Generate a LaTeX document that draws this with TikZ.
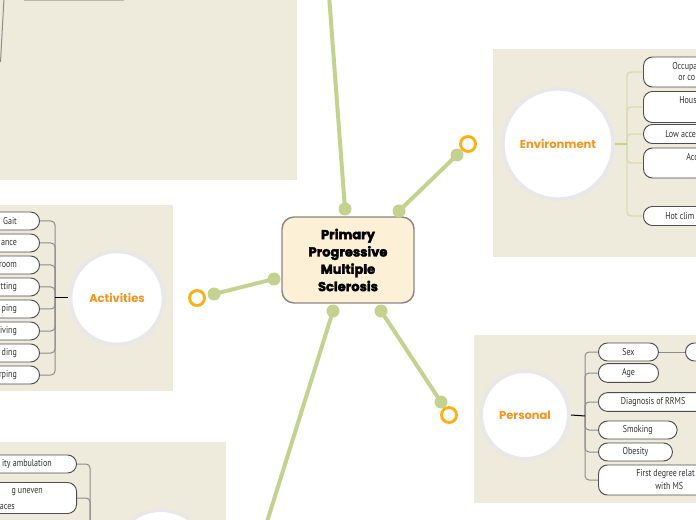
\documentclass[tikz,border=0pt]{standalone}
\usepackage{fontspec}
\setmainfont{PT Sans}
\newfontfamily\pillfont{PT Sans}[FakeStretch=0.8]
\newfontfamily\hubfont{Poppins}
\newfontfamily\rootfont{Poppins}[BoldFeatures={FakeBold=2.5}]
\usetikzlibrary{positioning,calc}
\definecolor{panelbg}{HTML}{EFEBDC}
\definecolor{panelline}{HTML}{BDBAAD}
\definecolor{stemgreen}{HTML}{C3D38F}
\definecolor{leafgreen}{HTML}{D5DEB0}
\definecolor{ringorange}{HTML}{FBB117}
\definecolor{hubtext}{HTML}{F7941D}
\definecolor{hubring}{HTML}{E8E8E8}
\definecolor{rootfill}{HTML}{FCF0D6}
\definecolor{rootline}{HTML}{8C8681}
\definecolor{pillline}{HTML}{4D4D4D}
\definecolor{pilltext}{HTML}{333333}
\definecolor{branchgray}{HTML}{8C8C8C}

\begin{document}
\begin{tikzpicture}[x=0.75pt,y=-0.75pt,
  panel/.style={fill=panelbg},
  hub/.style={circle,fill=white,draw=hubring,line width=3pt,minimum size=#1,inner sep=0pt,
    text=hubtext,font=\hubfont\bfseries\fontsize{8.6}{10}\selectfont},
  root/.style={rectangle,rounded corners=9pt,fill=rootfill,draw=rootline,line width=1.1pt,
    minimum width=99pt,minimum height=64.5pt,align=center,
    font=\rootfont\bfseries\fontsize{9.75}{13}\selectfont},
  knob/.style={circle,fill=stemgreen,minimum size=9.75pt,inner sep=0pt},
  ring/.style={circle,draw=ringorange,line width=2.2pt,minimum size=11.25pt,inner sep=0pt},
  stem/.style={draw=stemgreen,line width=3pt},
  pill/.style={draw=pillline,fill=white,rounded corners=6.75pt,line width=0.7pt,inner sep=0pt,
    text=pilltext,font=\pillfont\fontsize{7.5}{9}\selectfont},
  ptxt/.style={inner sep=0pt,text=pilltext,font=\pillfont\fontsize{7.5}{9}\selectfont},
  twig/.style={draw=branchgray,line width=0.75pt,rounded corners=3pt},
  leaf/.style={draw=leafgreen,line width=1.1pt,rounded corners=3pt}]
  \useasboundingbox (0,0) rectangle (696,520);
  \clip (0,0) rectangle (696,520);
  % panels
  \fill[panel] (0,0) rectangle (297,180);
  \fill[panel] (0,205) rectangle (173,391);
  \fill[panel] (493,49) rectangle (700,257);
  \fill[panel] (474,335) rectangle (700,503);
  \fill[panel] (0,442) rectangle (226,525);
  % top left, what is left of it
  \coordinate (tlA) at (24,0.5);
  \coordinate (tlB) at (124,0.5);
  \draw[panelline,line width=1.2pt] (tlA) -- (tlB);
  \coordinate (tlC) at (4,-2);
  \coordinate (tlD) at (0.5,62);
  \draw[twig] (tlC) .. controls (2,30) .. (tlD);

  % centre
  \node[root] (ppms) at (348,260) {Primary\\Progressive\\Multiple\\Sclerosis};
  \node[knob] (kt) at (345,209) {};
  \node[knob] (kr) at (399,211) {};
  \node[knob] (kl) at (274,279) {};
  \node[knob] (kb) at (333,311) {};
  \node[knob] (kbr) at (381,311) {};
  \node[knob] (kr2) at (457,155) {};
  \node[knob] (kl2) at (214,294) {};
  \node[knob] (kbr2) at (441,402) {};
  \node[ring] (rr) at (468,144) {};
  \node[ring] (rl) at (197,298) {};
  \node[ring] (rbr) at (449,415) {};
  \coordinate (topend) at (329,-5);
  \coordinate (botend) at (266,525);
  \draw[stem] (kt.center) -- (topend);
  \draw[stem] (kr.center) -- (kr2.center);
  \draw[stem] (kl.center) -- (kl2.center);
  \draw[stem] (kb.center) -- (botend);
  \draw[stem] (kbr.center) -- (kbr2.center);

  % hubs
  \node[hub=70pt] (acthub) at (117,298) {Activities};
  \node[hub=83pt] (envhub) at (558,144) {Environment};
  \node[hub=66pt] (perhub) at (525,415) {Personal};
  \node[hub=72pt] (mobhub) at (161,558) {};

  % activities
  \coordinate (actjoin) at (55,298);
  \foreach \y/\t/\n in {221/Gait/1,243/ance/2,265/room/3,287/tting/4,309/ping/5,331/iving/6,353/ding/7,375/rping/8} {
    \node[pill,anchor=east,minimum height=13.5pt,text width=30pt,align=right,inner xsep=17pt] (act\n) at (40,\y) {\t};
    \draw[twig] (act\n.east) -- (act\n.east -| actjoin) -- (actjoin);
  }
  \draw[black,line width=0.75pt] (actjoin) -- (acthub.west);

  % environment
  \coordinate (envjoin) at (627,144);
  \foreach \y/\h/\n in {72/22.5/1,107/23.25/2,134/14.25/3,163/22.5/4,216/14.25/5} {
    \node[pill,anchor=west,minimum width=90pt,minimum height=\h pt] (env\n) at (643,\y) {};
    \draw[leaf] (env\n.west) -- (env\n.west -| envjoin) -- (envjoin);
  }
  \foreach \x/\y/\t [count=\i] in {672/67/Occupa,678/78/or co,679/100/Hous,665/134/Low acce,686/157/Acc,665/216/Hot clim}
    \node[ptxt,anchor=west] (envt\i) at (\x,\y) {\t};
  \draw[stemgreen,line width=1.1pt] (envjoin) -- (envhub.east);

  % personal
  \coordinate (perjoin) at (585,416);
  \foreach \y/\w/\h/\t/\n in {352/45/13.5/Sex/1,373/45/14/Age/2,402/82/14/Diagnosis of RRMS/3,430/59/13.5/Smoking/4,452/55.5/13.5/Obesity/5,480/90/22.5/{}/6} {
    \node[pill,anchor=west,minimum width=\w pt,minimum height=\h pt] (per\n) at (598,\y) {\t};
    \draw[twig] (per\n.west) -- (per\n.west -| perjoin) -- (perjoin);
  }
  \node[ptxt,anchor=west] (pert1) at (636,474) {First degree relat};
  \node[ptxt,anchor=west] (pert2) at (655,486) {with MS};
  \node[pill,anchor=west,minimum width=45pt,minimum height=13.5pt] (sexnext) at (685,352) {};
  \draw[twig] (per1.east) -- (sexnext.west);
  \draw[black,line width=0.75pt] (perjoin) -- (perhub.east);

  % mobility
  \coordinate (mobjoin) at (90,558);
  \node[pill,anchor=east,minimum width=90pt,minimum height=13.5pt] (mob1) at (77,464) {};
  \node[pill,anchor=east,minimum width=90pt,minimum height=23.25pt] (mob2) at (77,498) {};
  \node[ptxt,anchor=east] (mobt1) at (52,464) {ity ambulation};
  \node[ptxt,anchor=east] (mobt2) at (43,492) {g uneven};
  \node[ptxt,anchor=east] (mobt3) at (15,507) {aces};
  \draw[twig] (mob1.east) -- (mob1.east -| mobjoin) -- (mobjoin);
  \draw[twig] (mob2.east) -- (mob2.east -| mobjoin) -- (mobjoin);
\end{tikzpicture}
\end{document}
